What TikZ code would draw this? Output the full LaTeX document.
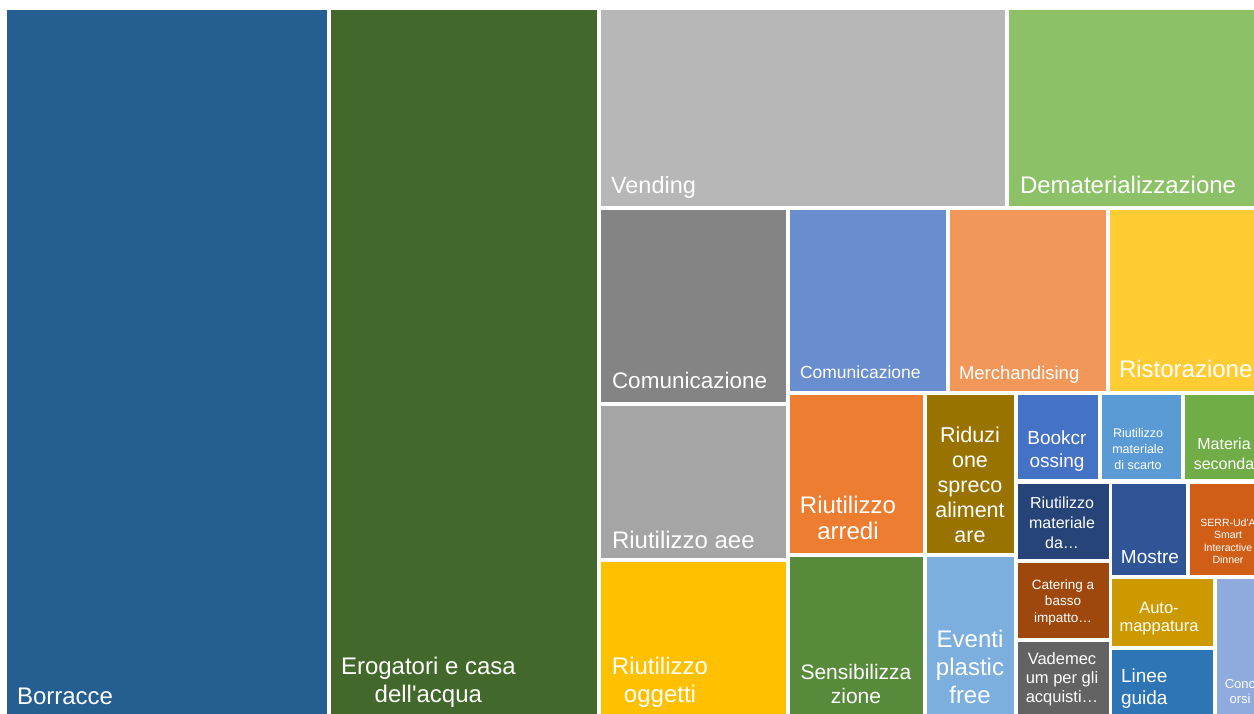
\documentclass[tikz,border=0pt]{standalone}
\usepackage{fontspec}
\setmainfont{Liberation Sans}
\definecolor{cborr}{HTML}{255E91}
\definecolor{cerog}{HTML}{43682B}
\definecolor{cvend}{HTML}{B7B7B7}
\definecolor{cdemat}{HTML}{8CC168}
\definecolor{ccomg}{HTML}{848484}
\definecolor{ccomb}{HTML}{698ED0}
\definecolor{cmerch}{HTML}{F1975A}
\definecolor{cristo}{HTML}{FFCD33}
\definecolor{caee}{HTML}{A5A5A5}
\definecolor{cogg}{HTML}{FFC000}
\definecolor{carr}{HTML}{ED7D31}
\definecolor{crid}{HTML}{997300}
\definecolor{csens}{HTML}{588A3B}
\definecolor{cevent}{HTML}{7CAFDD}
\definecolor{cbook}{HTML}{4472C4}
\definecolor{cscarto}{HTML}{5B9BD5}
\definecolor{cmat}{HTML}{70AD47}
\definecolor{cmda}{HTML}{264478}
\definecolor{cmost}{HTML}{2F5597}
\definecolor{cserr}{HTML}{D05E17}
\definecolor{ccater}{HTML}{9E480E}
\definecolor{cvade}{HTML}{636363}
\definecolor{cauto}{HTML}{CC9900}
\definecolor{clinee}{HTML}{2E75B6}
\definecolor{cconc}{HTML}{8FAADC}
\begin{document}
\begin{tikzpicture}[x=1pt,y=-1pt,
  cellbox/.style={rectangle,draw=none,inner sep=0pt,outer sep=0pt,anchor=north west},
  lbl/.style={text=white,inner sep=0pt,outer sep=0pt,align=center},
  fs/.style 2 args={font=\fontsize{#1}{#2}\selectfont}]
\fill[white] (0,0) rectangle (1254,713);
\useasboundingbox (0,0) rectangle (1254,713);
\clip (0,0) rectangle (1254,713);
% cells
\node[cellbox,fill=cborr,minimum width=320pt,minimum height=710pt] (borr) at (7,10) {};
\node[cellbox,fill=cerog,minimum width=266pt,minimum height=710pt] (erog) at (331,10) {};
\node[cellbox,fill=cvend,minimum width=404pt,minimum height=196pt] (vend) at (601,10) {};
\node[cellbox,fill=cdemat,minimum width=260pt,minimum height=196pt] (demat) at (1009,10) {};
\node[cellbox,fill=ccomg,minimum width=185pt,minimum height=192pt] (comg) at (601,210) {};
\node[cellbox,fill=ccomb,minimum width=156pt,minimum height=181pt] (comb) at (790,210) {};
\node[cellbox,fill=cmerch,minimum width=156pt,minimum height=181pt] (merch) at (950,210) {};
\node[cellbox,fill=cristo,minimum width=160pt,minimum height=181pt] (risto) at (1110,210) {};
\node[cellbox,fill=caee,minimum width=185pt,minimum height=152pt] (aee) at (601,406) {};
\node[cellbox,fill=cogg,minimum width=185pt,minimum height=160pt] (ogg) at (601,562) {};
\node[cellbox,fill=carr,minimum width=133pt,minimum height=158pt] (arr) at (790,395) {};
\node[cellbox,fill=crid,minimum width=87pt,minimum height=158pt] (rid) at (927,395) {};
\node[cellbox,fill=csens,minimum width=133pt,minimum height=160pt] (sens) at (790,557) {};
\node[cellbox,fill=cevent,minimum width=87pt,minimum height=160pt] (event) at (927,557) {};
\node[cellbox,fill=cbook,minimum width=80pt,minimum height=84pt] (book) at (1018,395) {};
\node[cellbox,fill=cscarto,minimum width=79pt,minimum height=84pt] (scarto) at (1102,395) {};
\node[cellbox,fill=cmat,minimum width=80pt,minimum height=84pt] (mat) at (1185,395) {};
\node[cellbox,fill=cmda,minimum width=91pt,minimum height=75pt] (mda) at (1018,484) {};
\node[cellbox,fill=cmost,minimum width=74pt,minimum height=91pt] (most) at (1112,484) {};
\node[cellbox,fill=cserr,minimum width=80pt,minimum height=91pt] (serr) at (1190,484) {};
\node[cellbox,fill=ccater,minimum width=91pt,minimum height=75pt] (cater) at (1018,563) {};
\node[cellbox,fill=cvade,minimum width=91pt,minimum height=80pt] (vade) at (1018,642) {};
\node[cellbox,fill=cauto,minimum width=101pt,minimum height=67pt] (auto) at (1112,579) {};
\node[cellbox,fill=clinee,minimum width=101pt,minimum height=80pt] (linee) at (1112,650) {};
\node[cellbox,fill=cconc,minimum width=60pt,minimum height=140pt] (conc) at (1217,579) {};
% labels
\node[lbl,fs={24}{28},anchor=base west] (lborr) at (17,704) {Borracce};
\node[lbl,fs={24}{28},anchor=west] (lerog) at (341,682) {Erogatori e casa\\dell\textquotesingle acqua};
\node[lbl,fs={23.5}{28},anchor=base west] (lvend) at (611,193) {Vending};
\node[lbl,fs={24}{28},anchor=base west] (ldemat) at (1020,193) {Dematerializzazione};
\node[lbl,fs={22.5}{26},anchor=base west] (lcomg) at (612,388) {Comunicazione};
\node[lbl,fs={17.5}{20},anchor=base west] (lcomb) at (800,378) {Comunicazione};
\node[lbl,fs={18.5}{21},anchor=base west] (lmerch) at (959,379) {Merchandising};
\node[lbl,fs={24}{28},anchor=base west] (lristo) at (1119,377) {Ristorazione};
\node[lbl,fs={24}{28},anchor=base west] (laee) at (612,548) {Riutilizzo aee};
\node[lbl,fs={24}{28}] (logg) at (660,682) {Riutilizzo\\oggetti};
\node[lbl,fs={24}{26}] (larr) at (848,518) {Riutilizzo\\arredi};
\node[lbl,fs={21.5}{25}] (lrid) at (970,485) {Riduzi\\one\\spreco\\aliment\\are};
\node[lbl,fs={21}{24}] (lsens) at (856,684) {Sensibilizza\\zione};
\node[lbl,fs={24}{28}] (levent) at (970,667) {Eventi\\plastic\\free};
\node[lbl,fs={19}{22.5}] (lbook) at (1057,451) {Bookcr\\ossing};
\node[lbl,fs={12.5}{16}] (lscarto) at (1138,449) {Riutilizzo\\materiale\\di scarto};
\node[lbl,fs={16}{19.5}] (lmat) at (1224,454) {Materia\\seconda};
\node[lbl,fs={16}{20}] (lmda) at (1062,523) {Riutilizzo\\materiale\\da…};
\node[lbl,fs={19}{22},anchor=base] (lmost) at (1150,563) {Mostre};
\node[lbl,fs={10.5}{12.5}] (lserr) at (1228,541) {SERR-Ud\textquotesingle A\\Smart\\Interactive\\Dinner};
\node[lbl,fs={13.5}{16.5}] (lcater) at (1063,602) {Catering a\\basso\\impatto…};
\node[lbl,fs={16.5}{19}] (lvade) at (1062,679) {Vademec\\um per gli\\acquisti…};
\node[lbl,fs={16.5}{18}] (lauto) at (1159,619) {Auto-\\mappatura};
\node[lbl,fs={19}{22},anchor=west,align=left] (llinee) at (1121,689) {Linee\\guida};
\node[lbl,fs={13}{15}] (lconc) at (1240,692) {Conc\\orsi};
\end{tikzpicture}
\end{document}
